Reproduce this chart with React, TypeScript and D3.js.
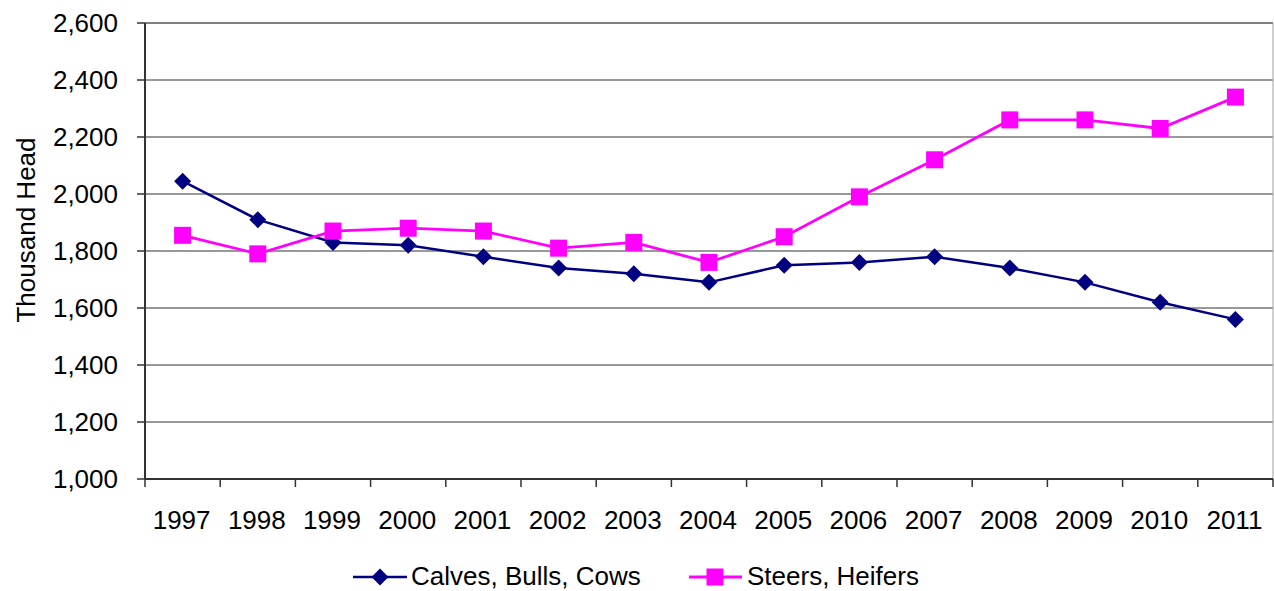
import React from "react";
import * as d3 from "d3";

const years = ["1997","1998","1999","2000","2001","2002","2003","2004","2005","2006","2007","2008","2009","2010","2011"];
const calves = [2045,1910,1830,1820,1780,1740,1720,1690,1750,1760,1780,1740,1690,1620,1560];
const steers = [1855,1790,1870,1880,1870,1810,1830,1760,1850,1990,2120,2260,2260,2230,2340];
const yTicks = [1000,1200,1400,1600,1800,2000,2200,2400,2600];
const seriesNames = ["Calves, Bulls, Cows", "Steers, Heifers"];

const W = 1274, H = 591;
const L = 145, R = 1273, T = 23, B = 479;
const FONT = "Arial, 'Liberation Sans', sans-serif";
const FS = 26;

export default function App() {
  const x = d3.scaleBand<string>().domain(years).range([L, R]);
  const y = d3.scaleLinear().domain([1000, 2600]).range([B, T]);
  const cx = (i: number) => (x(years[i]) as number) + x.bandwidth() / 2;
  const line = d3.line<number>().x((_, i) => cx(i)).y(d => y(d));
  const fmt = d3.format(",");

  const diamond = (px: number, py: number, s: number) =>
    `M${px},${py - s}L${px + s},${py}L${px},${py + s}L${px - s},${py}Z`;

  const tickXs = years.map((yr) => x(yr) as number).concat([R]);

  return (
    <svg width={W} height={H} style={{ position: "absolute", left: 0, top: 0 }} fontFamily={FONT}>
      <rect width={W} height={H} fill="#fff" />
      {/* gridlines */}
      {yTicks.map((t) => (
        <line key={t} x1={L} x2={R} y1={y(t)} y2={y(t)} stroke={t === 2600 ? "#808080" : "#333"} strokeWidth={t === 2600 ? 2 : 1} />
      ))}
      {/* right border */}
      <line x1={R} x2={R} y1={T} y2={B} stroke="#a0a0a0" strokeWidth={1} />
      {/* y axis */}
      <line x1={L} x2={L} y1={T} y2={B} stroke="#333" strokeWidth={2} />
      {yTicks.map((t) => (
        <g key={"yt" + t}>
          <line x1={L - 8} x2={L} y1={y(t)} y2={y(t)} stroke="#333" strokeWidth={1.5} />
          <text x={118} y={y(t)} dy="0.36em" textAnchor="end" fontSize={FS} fill="#000">{fmt(t)}</text>
        </g>
      ))}
      {/* x axis */}
      <line x1={L} x2={R} y1={B} y2={B} stroke="#333" strokeWidth={2} />
      {tickXs.map((tx, i) => (
        <line key={"xt" + i} x1={tx} x2={tx} y1={B} y2={B + 8} stroke="#333" strokeWidth={1.5} />
      ))}
      {years.map((yr, i) => (
        <text key={yr} x={cx(i) - 1} y={529} textAnchor="middle" fontSize={FS} fill="#000">{yr}</text>
      ))}
      <text transform={`translate(35,230) rotate(-90)`} textAnchor="middle" fontSize={FS} fill="#000">Thousand Head</text>

      {/* series */}
      <path d={line(calves) || ""} fill="none" stroke="#000080" strokeWidth={2.5} />
      {calves.map((v, i) => (
        <path key={"c" + i} d={diamond(cx(i), y(v), 8.5)} fill="#000080" />
      ))}
      <path d={line(steers) || ""} fill="none" stroke="#FF00FF" strokeWidth={2.8} />
      {steers.map((v, i) => (
        <rect key={"s" + i} x={cx(i) - 8.5} y={y(v) - 8.5} width={17} height={17} fill="#FF00FF" />
      ))}

      {/* legend */}
      <line x1={353} x2={407} y1={577} y2={577} stroke="#000080" strokeWidth={2.5} />
      <path d={diamond(380, 577, 8.5)} fill="#000080" />
      <text x={411} y={585} fontSize={FS} fill="#000">{seriesNames[0]}</text>
      <line x1={689} x2={742} y1={577} y2={577} stroke="#FF00FF" strokeWidth={2.8} />
      <rect x={715 - 8.5} y={577 - 8.5} width={17} height={17} fill="#FF00FF" />
      <text x={747} y={585} fontSize={FS} fill="#000">{seriesNames[1]}</text>
    </svg>
  );
}
